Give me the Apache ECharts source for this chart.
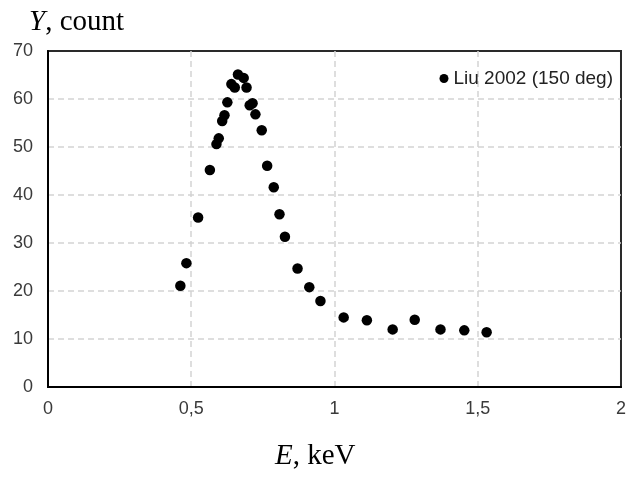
<!DOCTYPE html>
<html lang="en">
    <head>
        <meta http-equiv="Content-Type" content="text/html; charset=utf-8" />
        <title>Liu 2002</title>
        <style>
            * {
                margin: 0;
                padding: 0;
                box-sizing: border-box;
            }
            html,
            body {
                width: 100%;
                height: 100%;
                background: #fff;
            }
            #chart {
                width: 629px;
                height: 481px;
            }
        </style>
    </head>
    <body>
        <div id="chart"></div>
        <script src="https://cdn.jsdelivr.net/npm/echarts@6/dist/echarts.min.js"></script>
        <script>
            // energy (keV) and count
            const energy = [
                0.462, 0.483, 0.524, 0.565, 0.588, 0.596, 0.608, 0.616, 0.626, 0.64, 0.652,
                0.663, 0.683, 0.693, 0.704, 0.714, 0.724, 0.746, 0.765, 0.788, 0.808, 0.827,
                0.871, 0.912, 0.951, 1.032, 1.113, 1.203, 1.28, 1.37, 1.453, 1.531,
            ]
            const counts = [
                21.1, 25.8, 35.3, 45.2, 50.6, 51.8, 55.4, 56.6, 59.3, 63.1, 62.4, 65.1, 64.4,
                62.4, 58.7, 59.1, 56.8, 53.5, 46.1, 41.6, 36.0, 31.3, 24.7, 20.8, 17.9, 14.5,
                13.9, 12.0, 14.0, 12.0, 11.8, 11.4,
            ]
            const seriesName = 'Liu 2002 (150 deg)'

            const points = energy.map((e, i) => [e, counts[i]])
            const tickFont = { color: '#3a3a3a', fontSize: 18, fontFamily: 'Liberation Sans' }
            const gridLine = {
                show: true,
                showMinLine: false,
                showMaxLine: false,
                lineStyle: { color: '#d4d4d4', type: [6, 4], width: 1.5 },
            }
            const serifTitle = {
                fontFamily: 'Liberation Serif',
                fontSize: 29,
                fontWeight: 'normal',
                color: '#000',
                rich: {
                    i: { fontStyle: 'italic', fontFamily: 'Liberation Serif', fontSize: 29, color: '#000' },
                },
            }

            const chart = echarts.init(document.getElementById('chart'))
            chart.setOption({
                animation: false,
                title: [
                    {
                        text: '{i|Y}, count',
                        left: 24,
                        top: 3,
                        textStyle: serifTitle,
                    },
                    {
                        text: '{i|E}, keV',
                        left: 270,
                        top: 437,
                        textStyle: serifTitle,
                    },
                ],
                legend: {
                    right: 11,
                    top: 64,
                    icon: 'circle',
                    itemWidth: 9,
                    itemHeight: 9,
                    textStyle: { color: '#222', fontSize: 19, fontFamily: 'Liberation Sans' },
                    data: [seriesName],
                },
                grid: {
                    left: 48,
                    right: 5,
                    top: 51,
                    bottom: 94,
                    show: true,
                    borderColor: '#2a2a2a',
                    borderWidth: 2,
                },
                xAxis: {
                    type: 'value',
                    min: 0,
                    max: 2,
                    interval: 0.5,
                    axisLine: { lineStyle: { color: '#000', width: 2 } },
                    axisTick: { show: false },
                    axisLabel: {
                        ...tickFont,
                        margin: 13,
                        formatter: (v) => String(v).replace('.', ','),
                    },
                    splitLine: gridLine,
                },
                yAxis: {
                    type: 'value',
                    min: 0,
                    max: 70,
                    interval: 10,
                    axisLine: { show: true, lineStyle: { color: '#000', width: 2 } },
                    axisTick: { show: false },
                    axisLabel: { ...tickFont, margin: 15 },
                    splitLine: gridLine,
                },
                series: [
                    {
                        name: seriesName,
                        type: 'scatter',
                        symbol: 'circle',
                        symbolSize: 10.5,
                        itemStyle: { color: '#000', opacity: 1 },
                        data: points,
                    },
                ],
            })
        </script>
    </body>
</html>
